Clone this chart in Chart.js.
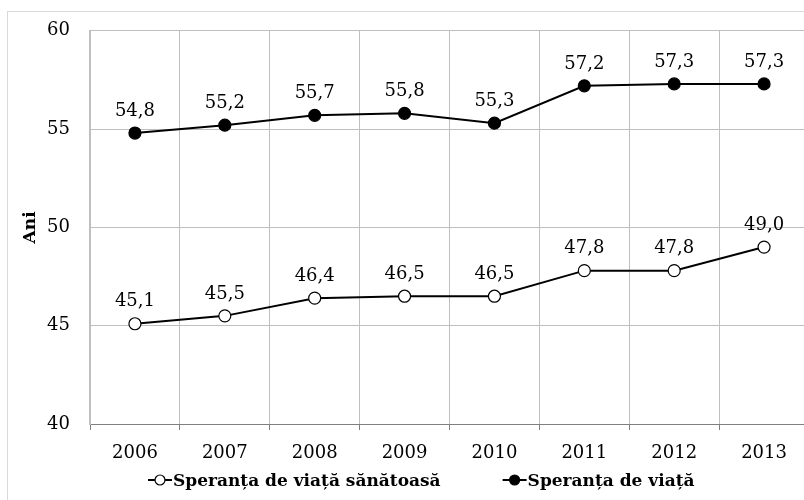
<!DOCTYPE html>
<html><head><meta charset="utf-8">
<script src="https://cdn.jsdelivr.net/npm/chart.js@4/dist/chart.umd.min.js"></script>
<style>
html,body{margin:0;padding:0;background:#fff;overflow:hidden;width:804px;height:500px;}
#frame{position:absolute;left:7px;top:11px;width:900px;height:600px;border:1px solid #d9d9d9;box-sizing:border-box;}
#wrap{position:absolute;left:0;top:0;width:830px;height:500px;}
</style></head><body>
<div id="frame"></div>
<div id="wrap"><canvas id="c" width="830" height="500"></canvas></div>
<script>
const years = ['2006','2007','2008','2009','2010','2011','2012','2013'];
const healthyLife = [45.1, 45.5, 46.4, 46.5, 46.5, 47.8, 47.8, 49.0];
const lifeExpectancy = [54.8, 55.2, 55.7, 55.8, 55.3, 57.2, 57.3, 57.3];
const yMin = 40, yMax = 60, yStep = 5;
const seriesNames = ['Speranța de viață sănătoasă', 'Speranța de viață'];
const yTitle = 'Ani';

const tickFont = {family: 'DejaVu Serif', size: 18};
const legendFont = 'bold 17px "DejaVu Serif"';

const dataLabels = {
  id: 'dataLabels',
  afterDatasetsDraw(chart) {
    const ctx = chart.ctx;
    ctx.save();
    ctx.font = '18px "DejaVu Serif"';
    ctx.fillStyle = '#000';
    ctx.textAlign = 'center';
    ctx.textBaseline = 'middle';
    chart.data.datasets.forEach((ds, i) => {
      chart.getDatasetMeta(i).data.forEach((pt, j) => {
        ctx.fillText(ds.data[j].toFixed(1).replace('.', ','), pt.x, pt.y - 22);
      });
    });
    ctx.restore();
  }
};

const customLegend = {
  id: 'customLegend',
  afterDraw(chart) {
    const ctx = chart.ctx;
    ctx.save();
    ctx.font = legendFont;
    const markW = 24, gapTxt = 1, gapItems = 62;
    const widths = chart.data.datasets.map(ds => markW + gapTxt + ctx.measureText(ds.label).width);
    let x = 148;
    const yMark = 480, yBase = 486;
    chart.data.datasets.forEach((ds, i) => {
      ctx.strokeStyle = '#000';
      ctx.lineWidth = 2;
      ctx.beginPath(); ctx.moveTo(x, yMark); ctx.lineTo(x + markW, yMark); ctx.stroke();
      ctx.beginPath(); ctx.arc(x + markW / 2, yMark, 5, 0, Math.PI * 2);
      ctx.fillStyle = ds.pointBackgroundColor; ctx.fill();
      ctx.lineWidth = 1.2; ctx.stroke();
      ctx.fillStyle = '#000';
      ctx.textBaseline = 'alphabetic';
      ctx.textAlign = 'left';
      ctx.fillText(ds.label, x + markW + gapTxt, yBase);
      x += widths[i] + gapItems;
    });
    ctx.restore();
  }
};

new Chart(document.getElementById('c'), {
  type: 'line',
  data: {
    labels: years,
    datasets: [
      {label: seriesNames[0], data: healthyLife, borderColor: '#000', borderWidth: 2,
       pointRadius: 6, pointBackgroundColor: '#fff', pointBorderColor: '#000', pointBorderWidth: 1.2, tension: 0},
      {label: seriesNames[1], data: lifeExpectancy, borderColor: '#000', borderWidth: 2,
       pointRadius: 6, pointBackgroundColor: '#000', pointBorderColor: '#000', pointBorderWidth: 1.2, tension: 0}
    ]
  },
  options: {
    responsive: false,
    animation: false,
    layout: {padding: {left: 0, right: 21, top: 27, bottom: 0}},
    plugins: {legend: {display: false}, tooltip: {enabled: false}},
    scales: {
      x: {
        offset: true,
        grid: {offset: true, color: '#bfbfbf', lineWidth: 1, tickLength: 6, tickColor: '#808080'},
        border: {color: '#808080', width: 1},
        ticks: {font: tickFont, color: '#000', padding: 13},
        afterFit(s) { s.height = 76; }
      },
      y: {
        min: yMin, max: yMax,
        ticks: {stepSize: yStep, font: tickFont, color: '#000', padding: 20},
        grid: {color: '#bfbfbf', lineWidth: 1, drawTicks: false},
        border: {color: '#bfbfbf', width: 2},
        title: {display: true, text: yTitle, font: {family: 'DejaVu Serif', size: 17, weight: 'bold'}, color: '#000', padding: {top: 20, bottom: 0}},
        afterFit(s) { s.width = 90; }
      }
    }
  },
  plugins: [dataLabels, customLegend]
});
</script>
</body></html>
